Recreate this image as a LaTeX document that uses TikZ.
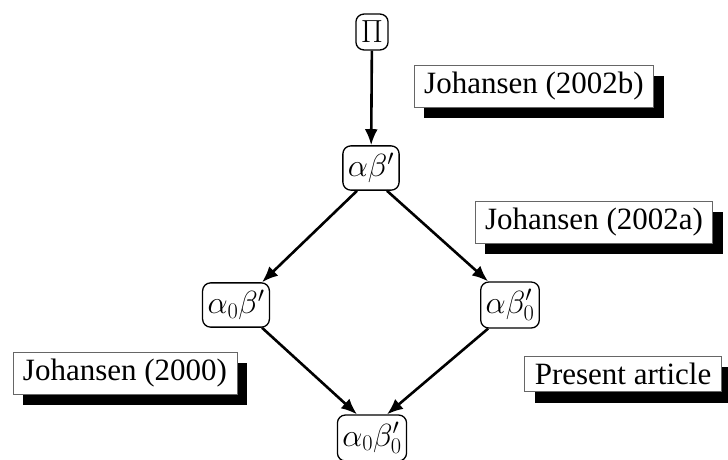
\documentclass[tikz,border=0pt]{standalone}
\usepackage{fix-cm}
\usepackage{fontspec}
\setmainfont{Liberation Serif}
\usetikzlibrary{shadows,arrows.meta}
\begin{document}
\begin{tikzpicture}[x=1pt,y=-1pt,
        term/.style={draw,rounded corners=8pt,line width=1.3pt,inner xsep=5pt,inner ysep=7pt,
            font=\fontsize{32}{38}\selectfont},
        cite/.style={draw=black!60,fill=white,line width=0.9pt,
            inner xsep=10pt,inner ysep=7pt,font=\fontsize{31}{37}\selectfont,
            drop shadow={shadow xshift=10pt,shadow yshift=-11pt,fill=black,opacity=1}},
        arr/.style={-{Latex[length=16pt,width=13pt]},line width=2.6pt}]
        \useasboundingbox (0,0) rectangle (728,459);
        %% matrices
        \node[term] (pi)   at (372,32)  {$\Pi$};
        \node[term] (ab)   at (371,168) {$\alpha\beta'$};
        \node[term] (a0b)  at (236,305) {$\alpha_0\beta'$};
        \node[term] (ab0)  at (510,305) {$\alpha\beta_0'$};
        \node[term] (a0b0) at (372,438) {$\alpha_0\beta_0'$};
        %% references
        \node[cite] (jb) at (534,86)  {Johansen (2002b)};
        \node[cite] (ja) at (594,222) {Johansen (2002a)};
        \node[cite] (jo) at (125,373) {Johansen (2000)};
        \node[cite] (pa) at (623,374) {Present article};
        %% arrows
        \draw[arr] (pi) -- (ab);
        \draw[arr] ([xshift=-14pt]ab.south) -- ([xshift=-8pt]a0b.north east);
        \draw[arr] ([xshift=16pt]ab.south) -- ([xshift=8pt]ab0.north west);
        \draw[arr] ([xshift=-8pt]a0b.south east) -- ([xshift=-15pt]a0b0.north);
        \draw[arr] ([xshift=8pt]ab0.south west) -- ([xshift=15pt]a0b0.north);
    \end{tikzpicture}
\end{document}
